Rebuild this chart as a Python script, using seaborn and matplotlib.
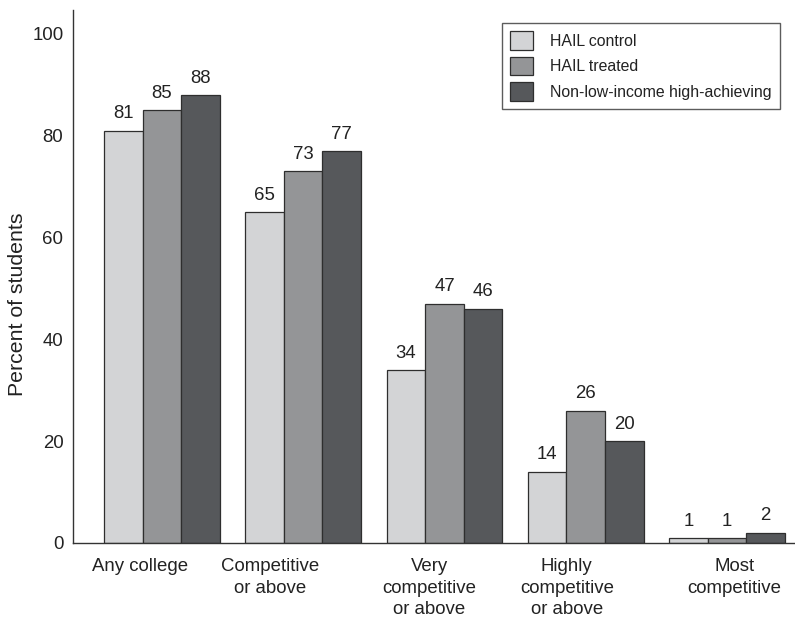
import matplotlib
matplotlib.use("Agg")
import matplotlib.pyplot as plt
import matplotlib.transforms as mtransforms
import seaborn as sns
import pandas as pd

categories = ["Any college", "Competitive\nor above", "Very\ncompetitive\nor above",
              "Highly\ncompetitive\nor above", "Most\ncompetitive"]
groups = ["HAIL control", "HAIL treated", "Non-low-income high-achieving"]
hail_control = [81, 65, 34, 14, 1]
hail_treated = [85, 73, 47, 26, 1]
non_low_income = [88, 77, 46, 20, 2]
y_ticks = [0, 20, 40, 60, 80, 100]
colors = ["#d3d4d6", "#949597", "#56585b"]

rows = []
for series, vals in zip(groups, [hail_control, hail_treated, non_low_income]):
    for cat, v in zip(categories, vals):
        rows.append({"category": cat, "group": series, "value": v})
df = pd.DataFrame(rows)

sns.set_style("white")
plt.rcParams["font.family"] = ["Liberation Sans", "DejaVu Sans"]

fig = plt.figure(figsize=(7.95, 6.17), dpi=100)
ax = fig.add_axes([0.092, 0.12, 0.907, 0.864])

sns.barplot(data=df, x="category", y="value", hue="group", order=categories,
            hue_order=groups, palette=colors, width=0.82, saturation=1,
            edgecolor="#2e2e2e", linewidth=0.9, ax=ax, errorbar=None)

for cont in ax.containers:
    ax.bar_label(cont, fmt="%d", padding=6, fontsize=13.4, color="#222222")

ax.set_ylim(0, 104.7)
ax.set_xlim(-0.628, 4.475)
ax.set_yticks(y_ticks)
ax.tick_params(axis="both", length=0, labelsize=13.4, colors="#222222")
ax.tick_params(axis="x", pad=11)
ax.tick_params(axis="y", pad=7)
ax.set_xlabel("")
ax.set_ylabel("Percent of students", fontsize=15.3, color="#222222")
ax.yaxis.set_label_coords(-0.064, 0.447)

for lbl in ax.get_xticklabels():
    lbl.set_linespacing(1.35)
# nudge the category labels sideways
shifts = [-22, -33, -15, -19, 7]
for lbl, dx in zip(ax.get_xticklabels(), shifts):
    lbl.set_transform(lbl.get_transform() +
                      mtransforms.ScaledTranslation(dx / 100, 0, fig.dpi_scale_trans))

sns.despine(ax=ax, top=True, right=True)
for side in ["left", "bottom"]:
    ax.spines[side].set_color("#333333")
    ax.spines[side].set_linewidth(1.0)

leg = ax.legend(loc="upper right", bbox_to_anchor=(0.98, 0.975), fontsize=11.4,
                frameon=True, fancybox=False, edgecolor="#333333",
                handlelength=1.45, handleheight=1.45, handletextpad=1.1,
                labelspacing=0.42, borderpad=0.5, borderaxespad=0)
leg.get_frame().set_linewidth(1.0)
for t in leg.get_texts():
    t.set_color("#222222")

fig.savefig("out.png", dpi=100)
